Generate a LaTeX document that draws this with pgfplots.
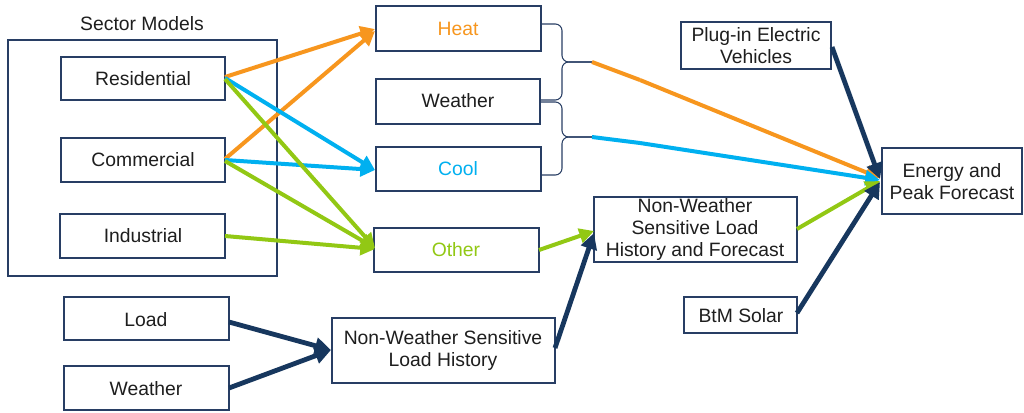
\documentclass[border=0pt]{standalone}
\usepackage{pgfplots}
\pgfplotsset{compat=1.18}
\usepackage{fontspec}
\setmainfont{Liberation Sans}
\usetikzlibrary{arrows.meta}
\definecolor{cOr}{RGB}{247,150,30}
\definecolor{cBl}{RGB}{0,176,240}
\definecolor{cGr}{RGB}{146,200,20}
\definecolor{cNv}{RGB}{23,55,94}
\definecolor{cBx}{RGB}{40,62,100}
\definecolor{cTx}{RGB}{30,30,30}
\begin{document}
\begin{tikzpicture}
\begin{axis}[
  scale only axis, width=768pt, height=309pt,
  xmin=0, xmax=1024, ymin=0, ymax=412, y dir=reverse,
  hide axis, clip=false,
  nodes={font=\fontsize{14.5}{16.5}\selectfont, text=cTx, align=center},
  box/.style={cBx, line width=1.4pt, fill=white},
  carr/.style={line width=3pt, -{Triangle[length=11pt,width=11pt]}},
  narr/.style={cNv, line width=3.6pt, -{Triangle[length=12pt,width=12pt]}},
]
% frame extent (invisible)
\addplot[draw=none] coordinates {(0,0)(1024,412)};
% outer sector box
\addplot[box] coordinates {(8,40)(277,40)(277,276)(8,276)} -- cycle;
\node at (axis cs:142,24) {Sector Models};
% boxes
\addplot[box] coordinates {(61,57)(225,57)(225,100)(61,100)} -- cycle;
\addplot[box] coordinates {(61,138)(225,138)(225,182)(61,182)} -- cycle;
\addplot[box] coordinates {(60,214)(225,214)(225,258)(60,258)} -- cycle;
\addplot[box] coordinates {(376,6)(541,6)(541,51)(376,51)} -- cycle;
\addplot[box] coordinates {(376,79)(540,79)(540,124)(376,124)} -- cycle;
\addplot[box] coordinates {(376,147)(541,147)(541,191)(376,191)} -- cycle;
\addplot[box] coordinates {(374,228)(539,228)(539,272)(374,272)} -- cycle;
\addplot[box] coordinates {(594,197)(797,197)(797,262)(594,262)} -- cycle;
\addplot[box] coordinates {(681,22)(831,22)(831,69)(681,69)} -- cycle;
\addplot[box] coordinates {(882,148)(1022,148)(1022,214)(882,214)} -- cycle;
\addplot[box] coordinates {(684,297)(797,297)(797,333)(684,333)} -- cycle;
\addplot[box] coordinates {(64,297)(229,297)(229,340)(64,340)} -- cycle;
\addplot[box] coordinates {(64,366)(229,366)(229,410)(64,410)} -- cycle;
\addplot[box] coordinates {(332,318)(555,318)(555,383)(332,383)} -- cycle;
% braces
\addplot[cBx, line width=0.8pt, rounded corners=5pt] coordinates {(541,24)(562,24)(562,62)(592,62)};
\addplot[cBx, line width=0.8pt, rounded corners=5pt] coordinates {(540,100)(562,100)(562,62)(592,62)};
\addplot[cBx, line width=0.8pt, rounded corners=5pt] coordinates {(540,102)(562,102)(562,137)(592,137)};
\addplot[cBx, line width=0.8pt, rounded corners=5pt] coordinates {(541,175)(562,175)(562,137)(592,137)};
% left colored arrows
\addplot[cOr, carr] coordinates {(225,77)(375,29)};
\addplot[cOr, carr] coordinates {(225,159)(375,31)};
\addplot[cBl, carr] coordinates {(225,78)(375,170)};
\addplot[cBl, carr] coordinates {(225,160)(375,170)};
\addplot[cGr, carr] coordinates {(225,79)(375,248)};
\addplot[cGr, carr] coordinates {(225,161)(375,248)};
\addplot[cGr, carr] coordinates {(225,236)(375,249)};
% right colored
\addplot[cOr, line width=3pt] coordinates {(592,62)(640,80)};
\addplot[cOr, carr] coordinates {(640,80)(880,178)};
\addplot[cBl, line width=3pt] coordinates {(592,137)(640,143)};
\addplot[cBl, carr] coordinates {(640,143)(880,180)};
\addplot[cGr, carr] coordinates {(539,250)(594,231)};
\addplot[cGr, carr] coordinates {(797,229)(880,181)};
% navy arrows
\addplot[narr] coordinates {(832,47)(880,179)};
\addplot[narr] coordinates {(797,313)(880,182)};
\addplot[narr] coordinates {(229,322)(331,350)};
\addplot[narr] coordinates {(229,388)(331,350)};
\addplot[narr] coordinates {(555,348)(594,233)};
% texts
\node at (axis cs:143,79) {Residential};
\node at (axis cs:143,160) {Commercial};
\node at (axis cs:143,236) {Industrial};
\node[text=cOr] at (axis cs:458,29) {Heat};
\node at (axis cs:458,101) {Weather};
\node[text=cBl] at (axis cs:458,169) {Cool};
\node[text=cGr] at (axis cs:456,250) {Other};
\node at (axis cs:695,229) {Non-Weather\\Sensitive Load\\History and Forecast};
\node at (axis cs:756,46) {Plug-in Electric\\Vehicles};
\node at (axis cs:952,182) {Energy and\\Peak Forecast};
\node at (axis cs:741,316) {BtM Solar};
\node at (axis cs:146,320) {Load};
\node at (axis cs:146,389) {Weather};
\node at (axis cs:443,350) {Non-Weather Sensitive\\Load History};
\end{axis}
\end{tikzpicture}
\end{document}
